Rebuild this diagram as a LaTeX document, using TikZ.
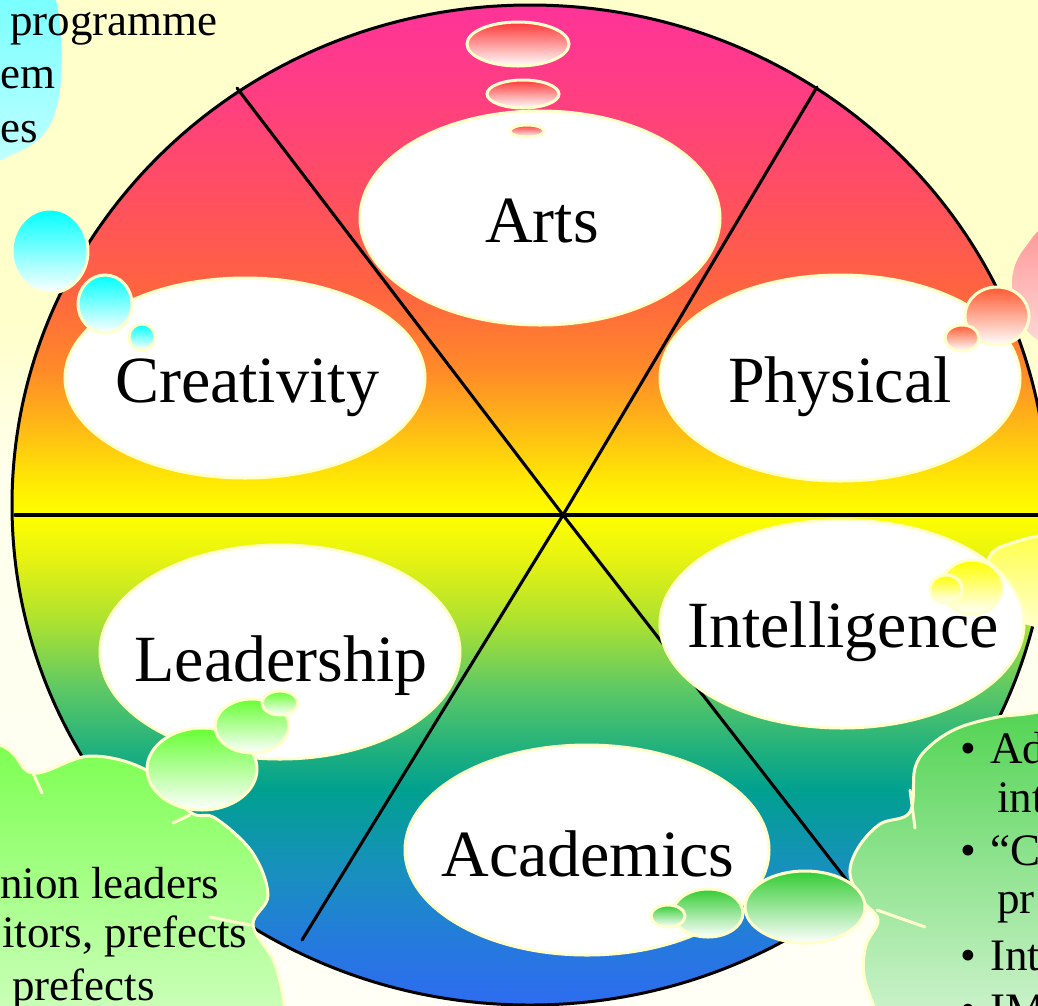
\documentclass[tikz,border=0pt]{standalone}
\usepackage{fontspec}
\setmainfont{Liberation Serif}
\usetikzlibrary{positioning}
\definecolor{paleyellow}{HTML}{FFFFCC}
\definecolor{bgTop}{HTML}{FFFFCC}
\definecolor{bgMid}{HTML}{FFFFEC}
\definecolor{bgLow}{HTML}{FFFFF6}
\definecolor{wPink}{HTML}{FF3399}
\definecolor{wRose}{HTML}{FF3F80}
\definecolor{wCoral}{HTML}{FF505F}
\definecolor{wRed}{HTML}{FF6440}
\definecolor{wOrange}{HTML}{FF8A28}
\definecolor{wAmber}{HTML}{FFBC14}
\definecolor{wGold}{HTML}{FFE804}
\definecolor{wYellow}{HTML}{FFFF00}
\definecolor{wLime}{HTML}{E6F212}
\definecolor{wChart}{HTML}{AEE230}
\definecolor{wGreen}{HTML}{5CC866}
\definecolor{wSea}{HTML}{20B07E}
\definecolor{wTeal}{HTML}{00A090}
\definecolor{wCyan}{HTML}{1890BE}
\definecolor{wAzure}{HTML}{2678E0}
\definecolor{wBlue}{HTML}{2E6CF0}
\definecolor{artsRed}{HTML}{FF3838}
\definecolor{creaCyan}{HTML}{00FFFF}
\definecolor{physRed}{HTML}{FF5A30}
\definecolor{intYellow}{HTML}{FFFF00}
\definecolor{leadGreen}{HTML}{66FF33}
\definecolor{acadGreen}{HTML}{33CC33}
\pgfdeclareverticalshading{backgrad}{100bp}{color(0bp)=(bgLow); color(25bp)=(bgLow);
  color(51.6bp)=(bgMid); color(58.6bp)=(bgTop); color(75bp)=(bgTop); color(100bp)=(bgTop)}
\pgfdeclareverticalshading{wheelgrad}{100bp}{color(0bp)=(wBlue); color(25bp)=(wBlue);
  color(27.75bp)=(wAzure); color(31.75bp)=(wCyan); color(35.75bp)=(wTeal);
  color(37.75bp)=(wSea); color(40.75bp)=(wGreen); color(44.25bp)=(wChart);
  color(47.25bp)=(wLime); color(49.5bp)=(wYellow); color(51.25bp)=(wGold);
  color(53.75bp)=(wAmber); color(56.75bp)=(wOrange); color(60.75bp)=(wRed);
  color(65.25bp)=(wCoral); color(70.25bp)=(wRose); color(75bp)=(wPink);
  color(100bp)=(wPink)}
\tikzset{
  rimline/.style={draw=black,line width=3pt},
  spoke/.style={black,line width=3.1pt},
  puff/.style={draw=paleyellow,line width=3pt},
  labelcloud/.style={puff,fill=white},
  bigword/.style={font=\fontsize{66}{70}\selectfont,inner sep=0pt,anchor=base},
  smallword/.style={font=\fontsize{45}{50}\selectfont,inner sep=0pt}
}
\begin{document}
\begin{tikzpicture}[x=1pt,y=-1pt,line cap=round]

  \useasboundingbox (0,0) rectangle (1038,1005);
  \clip (0,0) rectangle (1038,1005);
  \shade[shading=backgrad] (0,0) rectangle (1038,1005);

  % the wheel
  \shadedraw[shading=wheelgrad,rimline] (530,505) ellipse [x radius=518,y radius=500];

  \coordinate (hub) at (563,515);
  \coordinate (rimNW) at (237,88);
  \coordinate (rimNE) at (817,87);
  \coordinate (rimW) at (15,515);
  \coordinate (rimE) at (1048,515);
  \coordinate (rimSW) at (302,940);
  \coordinate (rimSE) at (848,882);
  \draw [spoke] (hub) -- (rimNW);
  \draw [spoke] (hub) -- (rimNE);
  \draw [spoke] (hub) -- (rimW);
  \draw [spoke] (hub) -- (rimE);
  \draw [spoke] (hub) -- (rimSW);
  \draw [spoke] (hub) -- (rimSE);

  % callout clouds, cut by the frame
  \shadedraw [puff,top color=creaCyan!75!white,bottom color=creaCyan!18!white]
    plot [smooth cycle,tension=0.6] coordinates {(-200,-100) (30,-70) (55,-10) (63,45)
      (60,100) (45,135) (15,155) (-30,165) (-200,160)};
  \shadedraw [puff,top color=artsRed!80!white,bottom color=white]
    plot [smooth cycle,tension=0.6] coordinates {(1200,150) (1060,215) (1025,245) (1011,275)
      (1015,310) (1035,340) (1100,370) (1200,380)};
  \shadedraw [puff,top color=intYellow,bottom color=white]
    plot [smooth cycle,tension=0.6] coordinates {(1150,500) (1060,530) (1018,541) (992,553)
      (985,580) (995,604) (1018,620) (1060,630) (1150,640)};
  \shadedraw [puff,top color=leadGreen,bottom color=leadGreen!10!white]
    plot [smooth cycle,tension=0.6] coordinates {(-100,720) (0,745) (33,773) (90,756)
      (148,771) (190,812) (215,818) (252,852) (268,895) (253,925) (274,962) (285,1010)
      (290,1080) (-100,1080)};
  \shadedraw [puff,top color=acadGreen,bottom color=white]
    plot [smooth cycle,tension=0.6] coordinates {(1150,690) (1038,712) (998,717) (958,728)
      (930,746) (915,768) (910,812) (880,824) (858,848) (850,874) (862,900) (878,920)
      (866,945) (864,975) (875,1010) (900,1080) (1150,1080)};
  \draw [puff] (33,773) -- (42,793);
  \draw [puff] (173,823) -- (190,815);
  \draw [puff] (210,917) -- (250,925);
  \draw [puff] (910,790) -- (915,828);
  \draw [puff] (877,910) -- (925,927);

  % white label clouds
  \draw [labelcloud] (540,218) ellipse [x radius=180,y radius=107];
  \draw [labelcloud] (245,378) ellipse [x radius=180,y radius=100];
  \draw [labelcloud] (840,378) ellipse [x radius=180,y radius=103];
  \draw [labelcloud] (280,652) ellipse [x radius=180,y radius=107];
  \draw [labelcloud] (842,624) ellipse [x radius=182,y radius=104];
  \draw [labelcloud] (587,850) ellipse [x radius=182,y radius=105];

  % thought bubbles
  \shadedraw [puff,top color=artsRed,bottom color=white] (518,44) ellipse [x radius=51,y radius=22];
  \shadedraw [puff,top color=artsRed,bottom color=white] (523,94) ellipse [x radius=36,y radius=14];
  \shadedraw [puff,top color=artsRed,bottom color=white] (527,131) ellipse [x radius=17,y radius=6];

  \shadedraw [puff,top color=creaCyan,bottom color=white] (50,251) ellipse [x radius=38,y radius=42];
  \shadedraw [puff,top color=creaCyan,bottom color=white] (105,304) ellipse [x radius=27,y radius=29];
  \shadedraw [puff,top color=creaCyan,bottom color=white] (142,337) ellipse [x radius=13,y radius=13];

  \shadedraw [puff,top color=physRed,bottom color=white] (997,316) ellipse [x radius=32,y radius=29];
  \shadedraw [puff,top color=physRed,bottom color=white] (962,338) ellipse [x radius=17,y radius=13];

  \shadedraw [puff,top color=intYellow,bottom color=white] (972,587) ellipse [x radius=31,y radius=27];
  \shadedraw [puff,top color=intYellow,bottom color=white] (946,589) ellipse [x radius=16,y radius=14];

  \shadedraw [puff,top color=leadGreen,bottom color=white] (202,769) ellipse [x radius=55,y radius=41];
  \shadedraw [puff,top color=leadGreen,bottom color=white] (252,726) ellipse [x radius=37,y radius=27];
  \shadedraw [puff,top color=leadGreen,bottom color=white] (280,703) ellipse [x radius=18,y radius=12];

  \shadedraw [puff,top color=acadGreen,bottom color=white] (805,907) ellipse [x radius=60,y radius=36];
  \shadedraw [puff,top color=acadGreen,bottom color=white] (708,913) ellipse [x radius=35,y radius=24];
  \shadedraw [puff,top color=acadGreen,bottom color=white] (668,916) ellipse [x radius=17,y radius=11];

  % labels
  \node [bigword] (arts) at (542,242) {Arts};
  \node [bigword] (creativity) at (247,402) {Creativity};
  \node [bigword] (physical) at (840,402) {Physical};
  \node [bigword] (leadership) at (281,681) {Leadership};
  \node [bigword] (intelligence) at (843,647) {Intelligence};
  \node [bigword] (academics) at (588,876) {Academics};

  % text of the callouts
  \node [smallword,anchor=base west] (progA) at (10,35) {programme};
  \node [smallword,anchor=base west] (progB) at (0,88) {em};
  \node [smallword,anchor=base west] (progC) at (0,142) {es};

  \node [smallword,anchor=base west] (leadA) at (0,898) {nion leaders};
  \node [smallword,anchor=base west] (leadB) at (2,947) {itors, prefects};
  \node [smallword,anchor=base west] (leadC) at (12,1000) {prefects};

  \node [smallword,anchor=base west] (dotA) at (960,763) {•};
  \node [smallword,anchor=base west] (acadA) at (990,763) {Ad};
  \node [smallword,anchor=base west] (acadB) at (997,812) {int};
  \node [smallword,anchor=base west] (dotB) at (960,865) {•};
  \node [smallword,anchor=base west] (acadC) at (990,865) {“C};
  \node [smallword,anchor=base west] (acadD) at (997,913) {pr};
  \node [smallword,anchor=base west] (dotC) at (960,970) {•};
  \node [smallword,anchor=base west] (acadE) at (990,970) {Int};
  \node [smallword,anchor=base west] (dotD) at (960,1024) {•};
  \node [smallword,anchor=base west] (acadF) at (990,1024) {IM};

\end{tikzpicture}
\end{document}
